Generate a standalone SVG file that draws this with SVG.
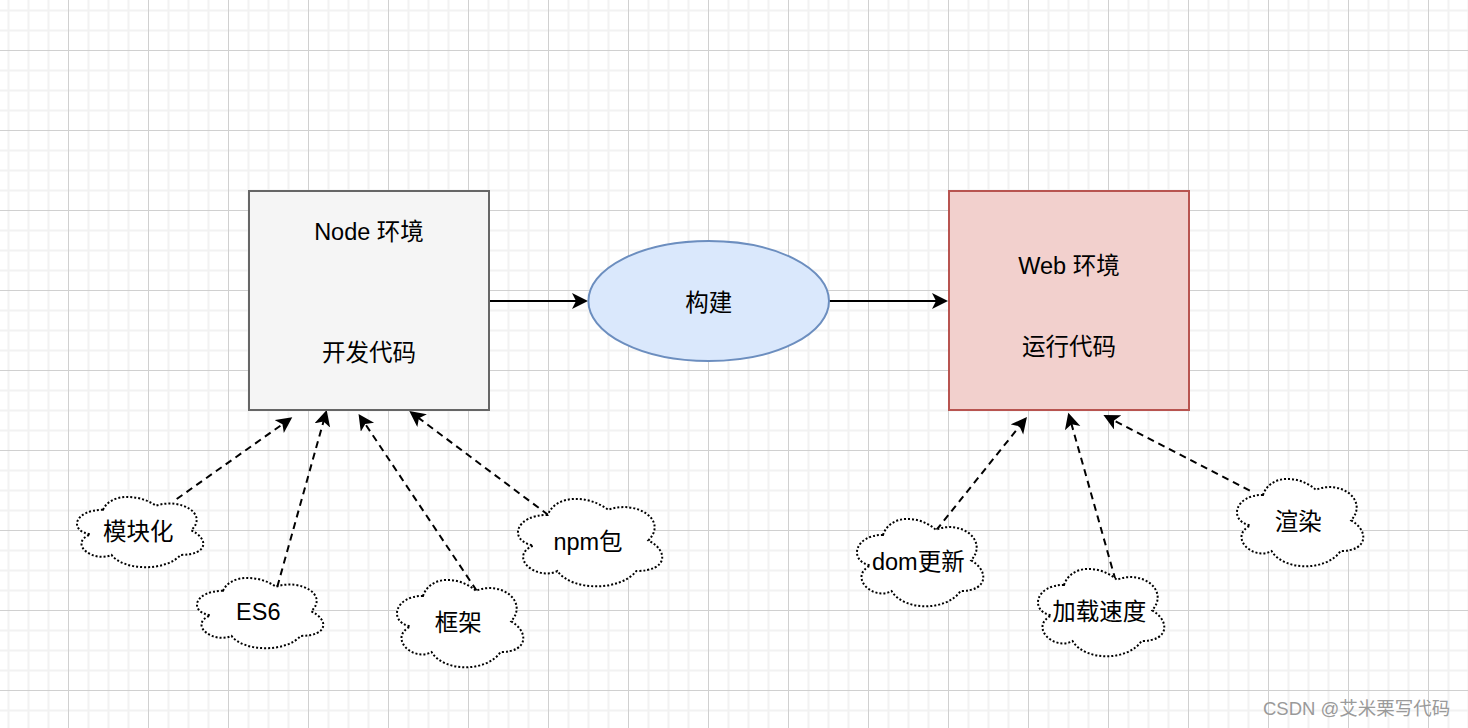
<svg xmlns="http://www.w3.org/2000/svg" width="1468" height="728" viewBox="0 0 1468 728">
  <style>
    .t { font-family: "Liberation Sans", "Noto Sans CJK SC", sans-serif; font-size: 23.5px; fill: #000; text-anchor: middle; }
    .cloud { fill: #fff; stroke: #000; stroke-width: 2; stroke-dasharray: 2 2; }
    .solid { fill: none; stroke: #000; stroke-width: 2; }
    .dash { fill: none; stroke: #000; stroke-width: 2; stroke-dasharray: 7 5; }
    .wm { font-family: "Liberation Sans", "Noto Sans CJK SC", sans-serif; font-size: 18.5px; fill: #9a9a9a; }
  </style>
  <defs>
    <pattern id="grid" x="-12" y="-30" width="80" height="80" patternUnits="userSpaceOnUse">
      <path d="M20.5 0V80M40.5 0V80M60.5 0V80M0 20.5H80M0 40.5H80M0 60.5H80" stroke="#f2f2f2" stroke-width="2" fill="none"/>
      <path d="M0.5 0V80M0 0.5H80" stroke="#d0d0d0" stroke-width="1" fill="none"/>
    </pattern>
    <marker id="arr" markerUnits="userSpaceOnUse" markerWidth="18" markerHeight="18" refX="6" refY="8" orient="auto">
      <path d="M16 8 L0 0 L4 8 L0 16 Z" fill="#000"/>
    </marker>
    <path id="cloudA" d="M35.25,20.5 C7.05,20.5 0,41 22.56,45.1 C0,54.12 25.38,73.8 43.71,65.6 C56.4,82 98.7,82 112.8,65.6 C141,65.6 141,49.2 123.375,41 C141,24.6 112.8,8.2 88.125,16.4 C70.5,4.1 42.3,4.1 35.25,20.5 Z"/>
    <path id="cloudB" d="M35.25,25.5 C7.05,25.5 0,51 22.56,56.1 C0,67.32 25.38,91.8 43.71,81.6 C56.4,102 98.7,102 112.8,81.6 C141,81.6 141,61.2 123.375,51 C141,30.6 112.8,10.2 88.125,20.4 C70.5,5.1 42.3,5.1 35.25,25.5 Z"/>
    <path id="cloudC" d="M40.25,25.5 C8.05,25.5 0,51 25.76,56.1 C0,67.32 28.98,91.8 49.91,81.6 C64.4,102 112.7,102 128.8,81.6 C161,81.6 161,61.2 140.875,51 C161,30.6 128.8,10.2 100.625,20.4 C80.5,5.1 48.3,5.1 40.25,25.5 Z"/>
  </defs>

  <rect width="1468" height="728" fill="#fff"/>
  <rect width="1468" height="728" fill="url(#grid)"/>

  <g id="connectors">
    <path class="solid" d="M489 301 H578" marker-end="url(#arr)"/>
    <path class="solid" d="M829 301 H938" marker-end="url(#arr)"/>
    <path class="dash" d="M176.7 499 L284.1 423.1" marker-end="url(#arr)"/>
    <path class="dash" d="M277.3 586.7 L324.0 419.6" marker-end="url(#arr)"/>
    <path class="dash" d="M476.7 590.7 L364.1 422.3" marker-end="url(#arr)"/>
    <path class="dash" d="M548.3 515 L417.3 417.0" marker-end="url(#arr)"/>
    <path class="dash" d="M936.4 530 L1020.7 424.8" marker-end="url(#arr)"/>
    <path class="dash" d="M1115.5 580 L1071.0 422.3" marker-end="url(#arr)"/>
    <path class="dash" d="M1249.8 490.7 L1112.3 419.6" marker-end="url(#arr)"/>
  </g>

  <g id="node-env">
    <rect x="249" y="191" width="240" height="219" fill="#f5f5f5" stroke="#666" stroke-width="2"/>
    <text class="t" x="369" y="240">Node 环境</text>
    <text class="t" x="369" y="361">开发代码</text>
  </g>

  <g id="build">
    <ellipse cx="708.7" cy="301" rx="120.3" ry="60" fill="#dae8fc" stroke="#6c8ebf" stroke-width="2"/>
    <text class="t" x="708.7" y="311">构建</text>
  </g>

  <g id="web-env">
    <rect x="949" y="191" width="240" height="219" fill="#f2d0cd" stroke="#b85450" stroke-width="2"/>
    <text class="t" x="1069" y="274">Web 环境</text>
    <text class="t" x="1069" y="355">运行代码</text>
  </g>

  <g id="modular">
    <use href="#cloudA" class="cloud" x="67.8" y="489.3"/>
    <text class="t" x="138.3" y="539.5">模块化</text>
  </g>
  <g id="es6">
    <use href="#cloudA" class="cloud" x="187.8" y="570.3"/>
    <text class="t" x="258.3" y="619.5">ES6</text>
  </g>
  <g id="framework">
    <use href="#cloudB" class="cloud" x="387.8" y="570.4"/>
    <text class="t" x="458.3" y="630.5">框架</text>
  </g>
  <g id="npm">
    <use href="#cloudC" class="cloud" x="507.5" y="489.4"/>
    <text class="t" x="588" y="550">npm包</text>
  </g>
  <g id="dom-update">
    <use href="#cloudB" class="cloud" x="847.8" y="509.4"/>
    <text class="t" x="918.3" y="570">dom更新</text>
  </g>
  <g id="load-speed">
    <use href="#cloudB" class="cloud" x="1028.8" y="559.4"/>
    <text class="t" x="1099.3" y="620">加载速度</text>
  </g>
  <g id="render">
    <use href="#cloudB" class="cloud" x="1227.8" y="469.4"/>
    <text class="t" x="1298.3" y="530">渲染</text>
  </g>

  <text class="wm" x="1263" y="715">CSDN @艾米栗写代码</text>
</svg>
